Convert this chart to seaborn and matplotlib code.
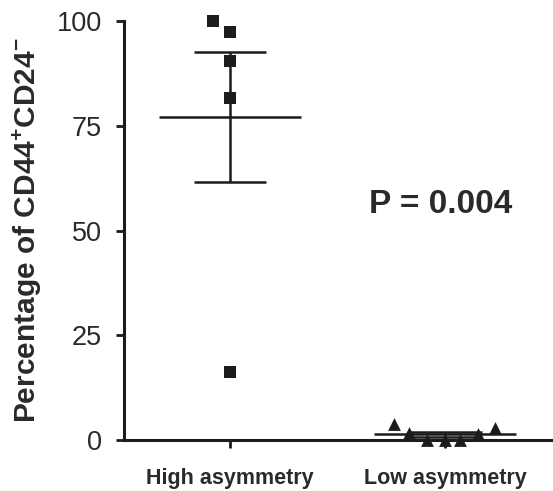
import numpy as np
import pandas as pd
import matplotlib
matplotlib.use("Agg")
import matplotlib.pyplot as plt
import seaborn as sns

sns.set_style("ticks")
plt.rcParams['font.family'] = ['Liberation Sans', 'DejaVu Sans']
plt.rcParams['mathtext.fontset'] = 'custom'
plt.rcParams['mathtext.rm'] = 'Liberation Sans:bold'
plt.rcParams['mathtext.bf'] = 'Liberation Sans:bold'
plt.rcParams['mathtext.default'] = 'bf'

groups = ["High asymmetry", "Low asymmetry"]
high_vals = [100.0, 97.4, 90.5, 81.6, 16.2]
low_vals = [3.8, 1.6, 0.0, 0.0, 0.0, 1.4, 2.8]
# horizontal scatter of the points inside each column (as plotted)
high_jitter = [-0.08, 0.0, 0.0, 0.0, 0.0]
low_jitter = [-0.24, -0.17, -0.085, 0.0, 0.07, 0.15, 0.23]
p_text = "P = 0.004"
yticks = [0, 25, 50, 75, 100]

df = pd.DataFrame({
    "group": [groups[0]] * len(high_vals) + [groups[1]] * len(low_vals),
    "value": high_vals + low_vals,
    "jitter": high_jitter + low_jitter,
})
df["xpos"] = df["group"].map({g: i for i, g in enumerate(groups)}) + df["jitter"]

ink = "#1c1c1c"
txt = "#2a2a2a"

fig = plt.figure(figsize=(5.53, 4.91), dpi=100)
ax = fig.add_axes([0.224, 0.104, 0.776, 0.853])

sns.scatterplot(data=df[df.group == groups[0]], x="xpos", y="value",
                marker="s", s=85, color=ink, linewidth=0, ax=ax,
                clip_on=False, zorder=3)
sns.scatterplot(data=df[df.group == groups[1]], x="xpos", y="value",
                marker="^", s=85, color=ink, linewidth=0, ax=ax,
                clip_on=False, zorder=3)

# mean +/- SEM
stats = df.groupby("group", sort=False)["value"].agg(["mean", "sem"])
for i, g in enumerate(groups):
    m, s = stats.loc[g, "mean"], stats.loc[g, "sem"]
    ax.hlines(m, i - 0.33, i + 0.33, color=ink, lw=1.8, clip_on=False, zorder=2)
    ax.vlines(i, m - s, m + s, color=ink, lw=1.8, clip_on=False, zorder=2)
    ax.hlines([m - s, m + s], i - 0.168, i + 0.168, color=ink, lw=1.8,
              clip_on=False, zorder=2)

ax.text(0.977, 56.3, p_text, fontsize=24, fontweight="bold", color=txt,
        ha="center", va="center")

ax.set_xlim(-0.493, 1.5)
ax.set_ylim(0, 100)
ax.set_xticks(range(len(groups)))
ax.set_xticklabels(groups, fontweight="bold")
ax.set_yticks(yticks)
ax.set_xlabel("")
ax.set_ylabel("Percentage of CD44$^{+}$CD24$^{-}$", fontsize=21.5,
              fontweight="bold", color=txt, labelpad=9)
ax.tick_params(axis="y", labelsize=19.5, length=6, width=2, pad=10,
               colors=ink, labelcolor=txt)
ax.tick_params(axis="x", labelsize=15.5, length=6, width=2, pad=14,
               colors=ink, labelcolor=txt)

sns.despine(ax=ax)
for sp in ["left", "bottom"]:
    ax.spines[sp].set_linewidth(2.2)
    ax.spines[sp].set_color(ink)

fig.savefig("out.png", dpi=100)
